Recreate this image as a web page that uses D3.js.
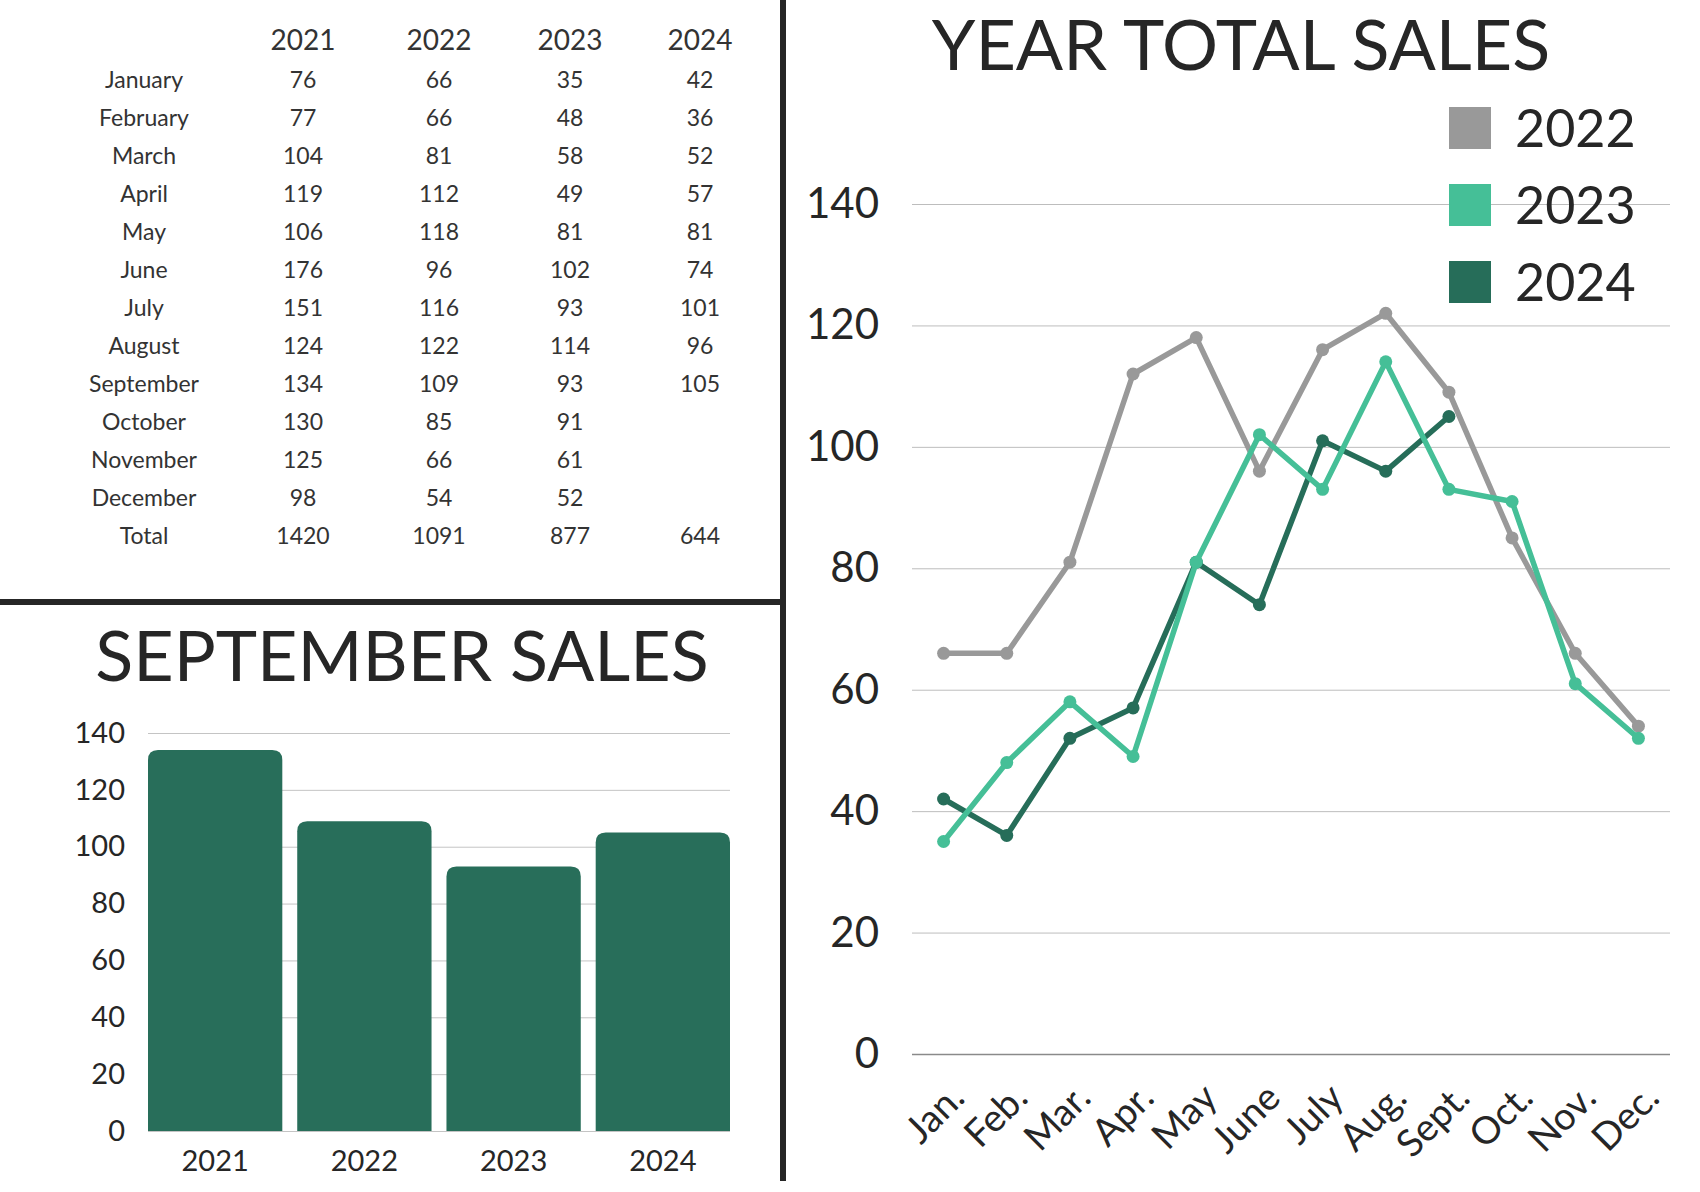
<!DOCTYPE html>
<html>
<head>
<meta charset="utf-8">
<script src="https://cdn.jsdelivr.net/npm/d3@7"></script>
<style>
  body { margin: 0; background: #fff; }
  text { font-family: Lato, "Open Sans", sans-serif; }
</style>
</head>
<body>
<div id="chart"></div>
<script>
// data
var months = ["January", "February", "March", "April", "May", "June", "July",
  "August", "September", "October", "November", "December"];
var monthShort = ["Jan.", "Feb.", "Mar.", "Apr.", "May", "June", "July",
  "Aug.", "Sept.", "Oct.", "Nov.", "Dec."];
var years = ["2021", "2022", "2023", "2024"];
var sales2021 = [76, 77, 104, 119, 106, 176, 151, 124, 134, 130, 125, 98];
var sales2022 = [66, 66, 81, 112, 118, 96, 116, 122, 109, 85, 66, 54];
var sales2023 = [35, 48, 58, 49, 81, 102, 93, 114, 93, 91, 61, 52];
var sales2024 = [42, 36, 52, 57, 81, 74, 101, 96, 105, null, null, null];
var lineYears = ["2022", "2023", "2024"];
var yTicks = [0, 20, 40, 60, 80, 100, 120, 140];

var salesByYear = { "2021": sales2021, "2022": sales2022, "2023": sales2023, "2024": sales2024 };
var colors = { "2022": "#999999", "2023": "#45bf97", "2024": "#266d59" };
var ink = "#262626";
var sepIndex = months.indexOf("September");

var svg = d3.select("#chart")
  .append("svg")
  .attr("width", 1700)
  .attr("height", 1192);

svg.append("rect").attr("width", 1700).attr("height", 1192).attr("fill", "#fff");

// ---------- table ----------
var colX = d3.scaleOrdinal().domain(years).range([303, 439, 570, 700]);
var rowY = d3.scaleLinear().domain([0, 12]).range([88, 544]);
var table = svg.append("g").attr("fill", "#333");

table.selectAll(".yearhead")
  .data(years)
  .enter()
  .append("text")
  .attr("x", d => colX(d))
  .attr("y", 50)
  .attr("text-anchor", "middle")
  .attr("font-size", 28)
  .text(d => d);

var rows = months.concat(["Total"]);
table.selectAll(".rowlabel")
  .data(rows)
  .enter()
  .append("text")
  .attr("x", 144)
  .attr("y", (d, i) => rowY(i))
  .attr("text-anchor", "middle")
  .attr("font-size", 23)
  .text(d => d);

years.forEach(function(yr) {
  var vals = salesByYear[yr].concat([d3.sum(salesByYear[yr])]);
  table.selectAll(".cell" + yr)
    .data(vals)
    .enter()
    .append("text")
    .attr("x", colX(yr))
    .attr("y", (d, i) => rowY(i))
    .attr("text-anchor", "middle")
    .attr("font-size", 23)
    .text(d => d == null ? "" : d);
});

// ---------- dividers ----------
svg.append("rect").attr("x", 780).attr("y", 0).attr("width", 6).attr("height", 1181).attr("fill", ink);
svg.append("rect").attr("x", 0).attr("y", 599).attr("width", 783).attr("height", 6).attr("fill", ink);

// ---------- september bars ----------
var sepValues = years.map(yr => salesByYear[yr][sepIndex]);
var xBar = d3.scaleBand().domain(years).range([148, 730]).paddingInner(0.1).paddingOuter(0);
var yBar = d3.scaleLinear().domain([0, 140]).range([1131, 733]);

svg.append("text")
  .attr("x", 402)
  .attr("y", 681)
  .attr("text-anchor", "middle")
  .attr("font-size", 70)
  .attr("fill", ink)
  .text("SEPTEMBER SALES");

var barAxis = svg.append("g")
  .attr("transform", "translate(148,0)")
  .call(d3.axisLeft(yBar).tickValues(yTicks).tickSize(-(730 - 148)).tickPadding(23));
barAxis.select(".domain").remove();
barAxis.selectAll("line").attr("stroke", "#c4c4c4");
barAxis.selectAll("text").attr("font-size", 29).attr("fill", ink).attr("font-family", "Lato");

var rr = 10;
svg.selectAll(".bar")
  .data(sepValues)
  .enter()
  .append("path")
  .attr("fill", "#286e5a")
  .attr("d", function(d, i) {
    var x0 = xBar(years[i]), x1 = x0 + xBar.bandwidth();
    var y0 = yBar(0), y1 = yBar(d);
    return "M" + x0 + "," + y0 + "V" + (y1 + rr) +
      "Q" + x0 + "," + y1 + " " + (x0 + rr) + "," + y1 +
      "H" + (x1 - rr) + "Q" + x1 + "," + y1 + " " + x1 + "," + (y1 + rr) +
      "V" + y0 + "Z";
  });

svg.selectAll(".barlabel")
  .data(years)
  .enter()
  .append("text")
  .attr("x", d => xBar(d) + xBar.bandwidth() / 2)
  .attr("y", 1171)
  .attr("text-anchor", "middle")
  .attr("font-size", 29)
  .attr("fill", ink)
  .text(d => d);

// ---------- year total lines ----------
var xLine = d3.scaleBand().domain(monthShort).range([912, 1670]);
var yLine = d3.scaleLinear().domain([0, 140]).range([1054, 204]);
var cx = i => xLine(monthShort[i]) + xLine.bandwidth() / 2;

svg.append("text")
  .attr("x", 1241)
  .attr("y", 70)
  .attr("text-anchor", "middle")
  .attr("font-size", 70)
  .attr("fill", ink)
  .text("YEAR TOTAL SALES");

var lineAxis = svg.append("g")
  .attr("transform", "translate(912,0)")
  .call(d3.axisLeft(yLine).tickValues(yTicks).tickSize(-(1670 - 912)).tickPadding(33));
lineAxis.select(".domain").remove();
lineAxis.selectAll("line").attr("stroke", d => d === 0 ? "#8a8a8a" : "#bdbdbd").attr("stroke-width", d => d === 0 ? 1.5 : 1);
lineAxis.selectAll("text").attr("font-size", 42).attr("fill", ink).attr("font-family", "Lato");

svg.selectAll(".monthlabel")
  .data(monthShort)
  .enter()
  .append("text")
  .attr("transform", (d, i) => "translate(" + (cx(i) + 23) + ",1100) rotate(-45)")
  .attr("text-anchor", "end")
  .attr("font-size", 38)
  .attr("fill", ink)
  .text(d => d);

var line = d3.line()
  .defined(d => d != null)
  .x((d, i) => cx(i))
  .y(d => yLine(d));

["2022", "2024", "2023"].forEach(function(yr) {
  var vals = salesByYear[yr];
  svg.append("path")
    .datum(vals)
    .attr("fill", "none")
    .attr("stroke", colors[yr])
    .attr("stroke-width", 5.5)
    .attr("stroke-linejoin", "round")
    .attr("d", line);
  svg.selectAll(".pt" + yr)
    .data(vals.map((v, i) => ({ v: v, i: i })).filter(d => d.v != null))
    .enter()
    .append("circle")
    .attr("cx", d => cx(d.i))
    .attr("cy", d => yLine(d.v))
    .attr("r", 6.5)
    .attr("fill", colors[yr]);
});

// legend
var legend = svg.selectAll(".legend")
  .data(lineYears)
  .enter()
  .append("g")
  .attr("transform", (d, i) => "translate(1449," + (107 + i * 77) + ")");
legend.append("rect").attr("width", 42).attr("height", 42).attr("fill", d => colors[d]);
legend.append("text")
  .attr("x", 66)
  .attr("y", 40)
  .attr("font-size", 52)
  .attr("fill", ink)
  .text(d => d);
</script>
</body>
</html>
